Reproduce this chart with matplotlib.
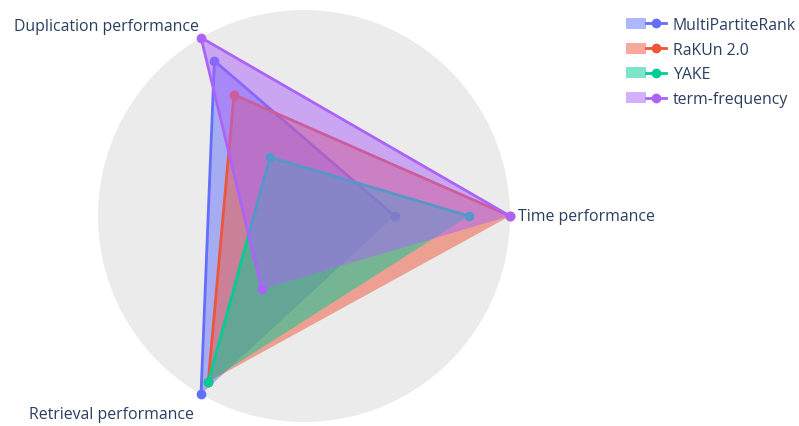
import numpy as np
import matplotlib.pyplot as plt
from matplotlib.patches import Patch
from matplotlib.lines import Line2D
from matplotlib.legend_handler import HandlerTuple

categories = ["Time performance", "Duplication performance", "Retrieval performance"]
methods = ["MultiPartiteRank", "RaKUn 2.0", "YAKE", "term-frequency"]
multipartite = [0.44, 0.87, 1.0]
rakun = [1.0, 0.68, 0.93]
yake = [0.80, 0.33, 0.93]
term_freq = [1.0, 1.0, 0.41]
colors = ["#636efa", "#EF553B", "#00cc96", "#ab63fa"]

plt.rcParams['font.family'] = ['Open Sans', 'DejaVu Sans']
txt_color = "#2a3f5f"
fs = 11.4

fig = plt.figure(figsize=(7.99, 4.27), dpi=100)
ax = fig.add_axes([98/799, 4/427, 412/799, 412/427], projection='polar')
ax.set_facecolor("#ebebeb")

angles = np.deg2rad([0, 120, 240])

handles = []
z = 1
for vals, name, c in zip([multipartite, rakun, yake, term_freq], methods, colors):
    # fill is closed, the line is not (last point not joined back to first)
    ax.fill(angles, vals, color=c, alpha=0.5, lw=0, zorder=z)
    ax.plot(angles, vals, color=c, lw=2, marker='o', ms=6, clip_on=False, zorder=z + 0.5)
    z += 1
    handles.append((Patch(facecolor=c, alpha=0.5, edgecolor='none'),
                    Line2D([], [], color=c, lw=2, marker='o', ms=6)))

ax.set_ylim(0, 1)
ax.grid(False)
ax.spines['polar'].set_visible(False)
ax.set_xticks([])
ax.set_yticks([])

# angular labels
ax.text(angles[0], 1.04, categories[0], ha='left', va='center', fontsize=fs, color=txt_color)
ax.text(angles[1], 1.02, categories[1], ha='right', va='bottom', fontsize=fs, color=txt_color)
ax.text(angles[2], 1.065, categories[2], ha='right', va='top', fontsize=fs, color=txt_color)

fig.legend(handles, methods, handler_map={tuple: HandlerTuple(ndivide=None, pad=0)},
           loc='upper left', bbox_to_anchor=(626/799, 1 - 18/427), frameon=False,
           fontsize=fs, handlelength=2.5, handleheight=0.7, labelspacing=0.55,
           handletextpad=0.45, borderaxespad=0, borderpad=0, labelcolor=txt_color)

fig.savefig("out.png", dpi=100)
